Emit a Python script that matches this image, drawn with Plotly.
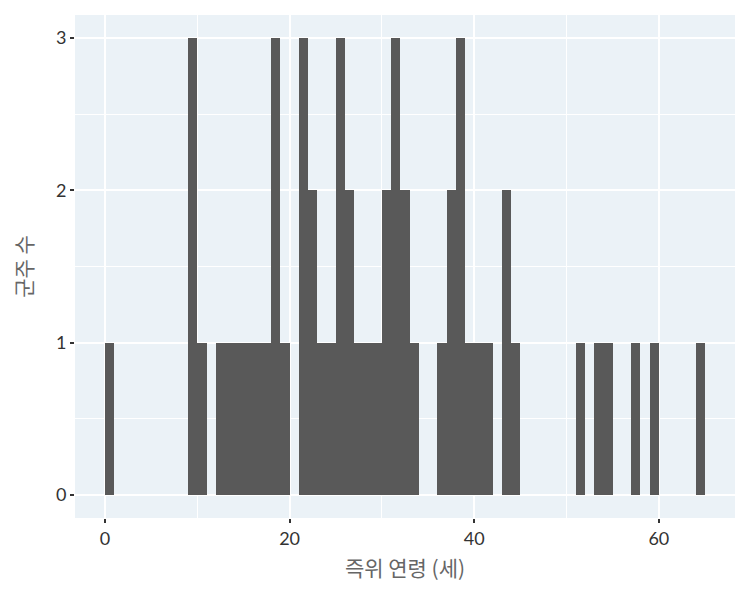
import plotly.graph_objects as go

# 즉위 연령 (세) 별 군주 수 - 1세 단위 구간
ages = [0, 9, 10, 12, 13, 14, 15, 16, 17, 18, 19, 21, 22, 23, 24, 25, 26,
        27, 28, 29, 30, 31, 32, 33, 36, 37, 38, 39, 40, 41, 43, 44,
        51, 53, 54, 57, 59, 64]
counts = [1, 3, 1, 1, 1, 1, 1, 1, 1, 3, 1, 3, 2, 1, 1, 3, 2,
          1, 1, 1, 2, 3, 2, 1, 1, 2, 3, 1, 1, 1, 2, 1,
          1, 1, 1, 1, 1, 1]

# 개별 관측값으로 풀어서 히스토그램으로 그림
values = [a for a, c in zip(ages, counts) for _ in range(c)]

fig = go.Figure()
fig.add_trace(go.Histogram(
    x=values,
    xbins=dict(start=0, end=66, size=1),
    marker=dict(color="#595959", line=dict(width=0)),
    showlegend=False,
))

# 페이지 기본 여백(8px)을 감안한 크기
fig.update_layout(
    width=742, height=592,
    margin=dict(l=67, r=15, t=7, b=82),
    paper_bgcolor="white",
    plot_bgcolor="#EBF2F7",
    bargap=0,
    font=dict(family="Lato, Noto Sans CJK KR, sans-serif", size=18, color="#333333"),
)

fig.update_xaxes(
    automargin=False,
    range=[-3.25, 68.25],
    tickvals=[0, 20, 40, 60],
    ticks="outside", ticklen=4, tickwidth=2, tickcolor="#333333",
    showgrid=True, gridcolor="white", gridwidth=2,
    minor=dict(tickvals=[10, 30, 50], showgrid=True, gridcolor="white", gridwidth=1, ticks=""),
    zeroline=False, showline=False,
    title=dict(text="즉위 연령 (세)", font=dict(size=21, color="#666666",
               family="Noto Sans CJK KR, sans-serif"), standoff=13),
)
fig.update_yaxes(
    automargin=False,
    range=[-0.15, 3.15],
    tickvals=[0, 1, 2, 3],
    ticks="outside", ticklen=4, tickwidth=2, tickcolor="#333333",
    showgrid=True, gridcolor="white", gridwidth=2,
    minor=dict(tickvals=[0.5, 1.5, 2.5], showgrid=True, gridcolor="white", gridwidth=1, ticks=""),
    zeroline=False, showline=False,
    title=dict(text="군주 수", font=dict(size=21, color="#666666",
               family="Noto Sans CJK KR, sans-serif"), standoff=33),
)

fig.write_html("out.html")
